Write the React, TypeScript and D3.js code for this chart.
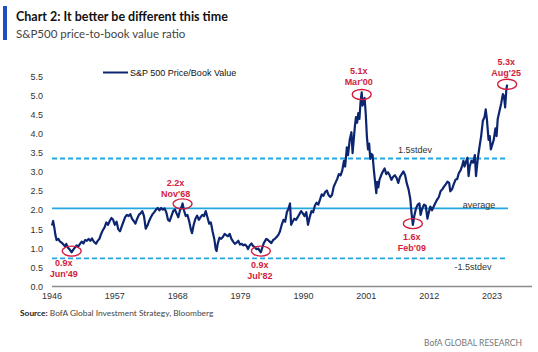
import React from "react";
import * as d3 from "d3";

const W = 538;
const H = 352;

// S&P 500 Price/Book value (decimal year, ratio)
const dates: number[] = [
  1946.0, 1946.2, 1946.4, 1946.6, 1946.8, 1947.1, 1947.4, 1947.7, 1948.0, 1948.3, 1948.5, 1948.8,
  1949.1, 1949.45, 1949.7, 1950.0, 1950.3, 1950.6, 1950.9, 1951.2, 1951.5, 1951.8, 1952.1, 1952.4,
  1952.7, 1953.0, 1953.3, 1953.7, 1954.0, 1954.3, 1954.6, 1954.9, 1955.2, 1955.5, 1955.8, 1956.1,
  1956.4, 1956.7, 1957.0, 1957.3, 1957.6, 1957.9, 1958.2, 1958.5, 1958.8, 1959.1, 1959.4, 1959.7,
  1960.0, 1960.3, 1960.6, 1960.9, 1961.2, 1961.5, 1961.8, 1962.1, 1962.4, 1962.7, 1963.0, 1963.3,
  1963.6, 1963.9, 1964.2, 1964.5, 1964.8, 1965.1, 1965.4, 1965.7, 1966.0, 1966.3, 1966.6, 1966.9,
  1967.2, 1967.5, 1967.8, 1968.1, 1968.4, 1968.7, 1968.85, 1969.1, 1969.4, 1969.7, 1970.0, 1970.3,
  1970.5, 1970.8, 1971.1, 1971.4, 1971.7, 1972.0, 1972.3, 1972.6, 1972.9, 1973.2, 1973.5, 1973.8,
  1974.1, 1974.4, 1974.65, 1974.8, 1975.0, 1975.3, 1975.6, 1975.9, 1976.2, 1976.5, 1976.8, 1977.1,
  1977.4, 1977.7, 1978.0, 1978.3, 1978.6, 1978.9, 1979.2, 1979.5, 1979.8, 1980.1, 1980.3, 1980.6,
  1980.9, 1981.2, 1981.5, 1981.8, 1982.1, 1982.3, 1982.55, 1982.8, 1983.1, 1983.5, 1983.8, 1984.1,
  1984.4, 1984.7, 1985.0, 1985.3, 1985.6, 1985.9, 1986.2, 1986.5, 1986.8, 1987.1, 1987.4, 1987.65,
  1987.85, 1988.1, 1988.4, 1988.7, 1989.0, 1989.3, 1989.6, 1989.9, 1990.2, 1990.5, 1990.8, 1991.1,
  1991.4, 1991.7, 1992.0, 1992.3, 1992.6, 1992.9, 1993.2, 1993.5, 1993.8, 1994.1, 1994.4, 1994.7,
  1995.0, 1995.3, 1995.6, 1995.9, 1996.2, 1996.5, 1996.8, 1997.1, 1997.3, 1997.6, 1997.8, 1998.1,
  1998.4, 1998.6, 1998.8, 1999.0, 1999.2, 1999.4, 1999.6, 1999.8, 2000.0, 2000.2, 2000.35, 2000.5,
  2000.7, 2000.9, 2001.1, 2001.3, 2001.5, 2001.7, 2001.9, 2002.1, 2002.3, 2002.5, 2002.75, 2002.9,
  2003.1, 2003.3, 2003.6, 2003.9, 2004.2, 2004.5, 2004.8, 2005.1, 2005.4, 2005.7, 2006.0, 2006.3,
  2006.6, 2006.9, 2007.2, 2007.5, 2007.8, 2008.1, 2008.4, 2008.7, 2008.9, 2009.15, 2009.4, 2009.7,
  2010.0, 2010.3, 2010.5, 2010.8, 2011.1, 2011.4, 2011.7, 2011.9, 2012.2, 2012.5, 2012.8, 2013.1,
  2013.4, 2013.7, 2014.0, 2014.3, 2014.6, 2014.9, 2015.2, 2015.5, 2015.7, 2016.0, 2016.3, 2016.6,
  2016.9, 2017.2, 2017.5, 2017.8, 2018.0, 2018.2, 2018.5, 2018.7, 2018.9, 2019.1, 2019.4, 2019.7,
  2020.0, 2020.2, 2020.4, 2020.6, 2020.9, 2021.1, 2021.4, 2021.7, 2021.9, 2022.1, 2022.4, 2022.6,
  2022.8, 2023.0, 2023.3, 2023.6, 2023.8, 2024.0, 2024.3, 2024.6, 2024.9, 2025.1, 2025.3, 2025.5,
  2025.65,
];

const values: number[] = [
  1.6, 1.72, 1.55, 1.35, 1.22, 1.25, 1.18, 1.15, 1.1, 1.05, 1.12, 1.02,
  0.97, 0.9, 0.96, 1.02, 1.08, 1.05, 1.12, 1.18, 1.13, 1.22, 1.2, 1.25,
  1.2, 1.26, 1.18, 1.12, 1.2, 1.25, 1.38, 1.48, 1.55, 1.68, 1.62, 1.72,
  1.8, 1.75, 1.62, 1.7, 1.5, 1.45, 1.58, 1.7, 1.82, 1.88, 1.85, 1.9,
  1.78, 1.72, 1.65, 1.78, 1.88, 1.92, 1.98, 1.85, 1.52, 1.6, 1.72, 1.82,
  1.9, 1.95, 2.02, 2.06, 2.0, 2.06, 2.02, 2.05, 1.95, 1.75, 1.72, 1.85,
  1.98, 2.02, 1.92, 1.82, 2.0, 2.1, 2.18, 2.0, 1.85, 1.88, 1.72, 1.5,
  1.4, 1.62, 1.78, 1.86, 1.75, 1.82, 1.88, 1.85, 1.98, 1.82, 1.65, 1.68,
  1.45, 1.25, 0.98, 0.93, 1.12, 1.28, 1.25, 1.3, 1.38, 1.35, 1.32, 1.38,
  1.25, 1.18, 1.12, 1.15, 1.2, 1.1, 1.12, 1.08, 1.1, 1.05, 0.98, 1.08,
  1.13, 1.06, 1.03, 0.98, 1.0, 0.95, 0.9, 1.02, 1.15, 1.25, 1.22, 1.18,
  1.14, 1.22, 1.25, 1.3, 1.35, 1.45, 1.62, 1.75, 1.7, 1.95, 2.05, 2.18,
  1.62, 1.7, 1.78, 1.75, 1.82, 1.9, 1.98, 1.92, 1.85, 1.95, 1.62, 1.82,
  1.98, 1.95, 2.12, 2.2, 2.15, 2.28, 2.42, 2.38, 2.48, 2.52, 2.4, 2.35,
  2.4, 2.62, 2.72, 2.82, 2.95, 2.92, 3.05, 3.3, 3.15, 3.65, 3.45, 3.85,
  4.05, 3.5, 3.85, 4.2, 4.45, 4.3, 4.55, 4.4, 4.85, 5.1, 4.75, 4.85,
  4.95, 4.55, 3.95, 3.6, 3.75, 3.35, 3.48, 3.45, 3.1, 2.8, 2.45, 2.75,
  2.6, 2.8, 2.92, 3.02, 3.1, 2.95, 3.0, 2.92, 2.8, 2.88, 2.92, 2.85,
  2.72, 2.88, 2.95, 3.02, 2.92, 2.7, 2.55, 2.3, 1.95, 1.62, 1.85, 2.05,
  2.15, 2.18, 1.88, 2.05, 2.15, 2.12, 1.78, 1.92, 2.1, 2.0, 2.1, 2.2,
  2.28, 2.35, 2.5, 2.55, 2.62, 2.68, 2.75, 2.72, 2.5, 2.55, 2.68, 2.8,
  2.82, 2.98, 3.05, 3.18, 3.3, 3.15, 3.3, 3.38, 2.9, 3.15, 3.3, 3.25,
  3.45, 2.9, 3.2, 3.45, 3.75, 3.95, 4.35, 4.45, 4.65, 4.4, 3.85, 3.95,
  3.6, 3.7, 3.85, 4.15, 3.95, 4.4, 4.6, 4.8, 5.05, 5.0, 4.7, 5.15,
  5.3,
];

const yTicks: number[] = [0, 0.5, 1, 1.5, 2, 2.5, 3, 3.5, 4, 4.5, 5, 5.5];
const xTicks: number[] = [1946, 1957, 1968, 1979, 1990, 2001, 2012, 2023];

const refValues: number[] = [3.36, 2.05, 0.74];
const refLabels: string[] = ["1.5stdev", "average", "-1.5stdev"];

const annDates: number[] = [1949.45, 1968.85, 1982.55, 2000.2, 2009.15, 2025.65];
const annValues: number[] = [0.93, 2.17, 0.93, 5.04, 1.65, 5.31];
const annTop: string[] = ["0.9x", "2.2x", "0.9x", "5.1x", "1.6x", "5.3x"];
const annBottom: string[] = ["Jun'49", "Nov'68", "Jul'82", "Mar'00", "Feb'09", "Aug'25"];

// layout for annotation text (offset from ellipse centre): [dx, dyTop, dyBottom]
const annLayout: [number, number, number][] = [
  [-8, 12, 23],
  [-7, -21, -10],
  [-1, 14, 25],
  [-3, -24, -13],
  [-1, 13, 24],
  [-1, -22, -11],
];
const refLabelLayout: [number, number][] = [
  [415, -9],
  [479, -4],
  [473, 9],
];

const NAVY = "#0c2570";
const LIGHTBLUE = "#23a6e2";
const RED = "#d21c3e";
const FONT = "Liberation Sans, Arial, sans-serif";

export default function App() {
  const x = d3.scaleLinear().domain([1946, 2030]).range([52, 532]);
  const y = d3.scaleLinear().domain([0, 5.5]).range([286.5, 77]);

  const pts: [number, number][] = dates.map((d, i) => [d, values[i]]);
  const line = d3
    .line<[number, number]>()
    .x((p) => x(p[0]))
    .y((p) => y(p[1]))
    .curve(d3.curveLinear);

  return (
    <div style={{ position: "fixed", left: 0, top: 0, width: W, height: H, background: "#fff" }}>
      <svg width={W} height={H} style={{ display: "block" }}>
        <rect x={0} y={0} width={W} height={H} fill="#fff" />
        {/* title block */}
        <rect x={3} y={6} width={4} height={34} fill="#1f4fbf" />
        <text x={16} y={21} fontFamily="Lato, Open Sans, sans-serif" fontWeight="bold" fontSize={12.5} fill="#111">
          Chart 2: It better be different this time
        </text>
        <text x={16} y={38} fontFamily="Lato, Open Sans, sans-serif" fontSize={11.5} fill="#444">
          S&amp;P500 price-to-book value ratio
        </text>

        {/* y tick labels */}
        {yTicks.map((t) => (
          <text
            key={"y" + t}
            x={43}
            y={y(t)}
            dy="0.35em"
            textAnchor="end"
            fontFamily={FONT}
            fontSize={9}
            fill="#333"
          >
            {t.toFixed(1)}
          </text>
        ))}

        {/* x axis */}
        <line x1={x(1946)} x2={x(2030)} y1={y(0)} y2={y(0)} stroke="#8a8a8a" strokeWidth={1.6} />
        {xTicks.map((t) => (
          <text
            key={"x" + t}
            x={x(t)}
            y={y(0) + 12}
            textAnchor="middle"
            fontFamily={FONT}
            fontSize={9}
            fill="#333"
          >
            {t}
          </text>
        ))}

        {/* reference lines */}
        {refValues.map((v, i) => (
          <line
            key={"r" + i}
            x1={x(1946)}
            x2={x(2025.8)}
            y1={y(v)}
            y2={y(v)}
            stroke={LIGHTBLUE}
            strokeWidth={1.8}
            strokeDasharray={i === 1 ? undefined : "5,3"}
          />
        ))}
        {refLabels.map((l, i) => (
          <text
            key={"rl" + i}
            x={refLabelLayout[i][0]}
            y={y(refValues[i]) + refLabelLayout[i][1]}
            dy="0.35em"
            textAnchor="middle"
            fontFamily={FONT}
            fontSize={9}
            fill="#333"
          >
            {l}
          </text>
        ))}

        {/* series */}
        <path d={line(pts) || ""} fill="none" stroke={NAVY} strokeWidth={2.2} strokeLinejoin="round" />

        {/* legend */}
        <line x1={103} x2={128} y1={72.5} y2={72.5} stroke={NAVY} strokeWidth={2} />
        <text x={130} y={72.5} dy="0.35em" fontFamily={FONT} fontSize={9} fill="#111">
          S&amp;P 500 Price/Book Value
        </text>

        {/* annotations */}
        {annDates.map((d, i) => {
          const cx = x(d);
          const cy = y(annValues[i]);
          const [dx, dt, db] = annLayout[i];
          return (
            <g key={"a" + i}>
              <ellipse cx={cx} cy={cy} rx={9.5} ry={5} fill="none" stroke={RED} strokeWidth={1.4} />
              <text
                x={cx + dx}
                y={cy + dt}
                dy="0.35em"
                textAnchor="middle"
                fontFamily={FONT}
                fontWeight="bold"
                fontSize={9}
                fill={RED}
              >
                {annTop[i]}
              </text>
              <text
                x={cx + dx}
                y={cy + db}
                dy="0.35em"
                textAnchor="middle"
                fontFamily={FONT}
                fontWeight="bold"
                fontSize={9}
                fill={RED}
              >
                {annBottom[i]}
              </text>
            </g>
          );
        })}

        {/* source and branding */}
        <text x={20} y={316} fontFamily="Lato, Open Sans, sans-serif" fontSize={8.4} fill="#444">
          <tspan fontWeight="bold" fill="#222">Source:</tspan> BofA Global Investment Strategy, Bloomberg
        </text>
        <text x={522} y={346} textAnchor="end" fontFamily="Lato, Open Sans, sans-serif" fontSize={8.5} fill="#777">
          BofA GLOBAL RESEARCH
        </text>
      </svg>
    </div>
  );
}
